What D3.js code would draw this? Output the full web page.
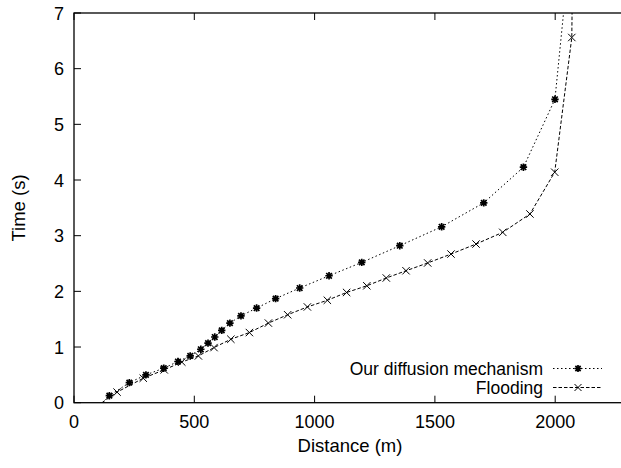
<!DOCTYPE html>
<html>
<head>
<meta charset="utf-8">
<script src="https://cdn.jsdelivr.net/npm/d3@7"></script>
<style>
  body { margin: 0; background: #fff; }
  text { font-family: "Liberation Sans", Arial, sans-serif; fill: #000; }
</style>
</head>
<body>
<div id="chart"></div>
<script>
// data
var diffusionDist = [60, 147, 230, 299, 373, 432, 483, 527, 557, 585, 614, 648, 694, 759, 838, 938, 1060, 1196, 1354, 1528, 1703, 1868, 1999, 2060];
var diffusionTime = [-0.25, 0.126, 0.36, 0.50, 0.62, 0.74, 0.84, 0.96, 1.07, 1.18, 1.30, 1.43, 1.56, 1.70, 1.87, 2.06, 2.28, 2.52, 2.82, 3.16, 3.59, 4.23, 5.45, 8.1];
var floodingDist = [60, 179, 288, 375, 448, 517, 582, 652, 729, 808, 888, 970, 1053, 1133, 1217, 1298, 1380, 1470, 1567, 1671, 1782, 1895, 1998, 2069, 2075];
var floodingTime = [-0.17, 0.19, 0.44, 0.59, 0.73, 0.84, 0.99, 1.14, 1.26, 1.43, 1.58, 1.72, 1.84, 1.98, 2.10, 2.24, 2.37, 2.51, 2.67, 2.85, 3.06, 3.39, 4.14, 6.56, 9.0];
var xTicks = [0, 500, 1000, 1500, 2000];
var yTicks = [0, 1, 2, 3, 4, 5, 6, 7];
var seriesNames = ["Our diffusion mechanism", "Flooding"];

var width = 621,
    height = 468;
var margin = {left: 74, top: 13};
var xMax = 2350; // right border falls outside the picture

var x = d3.scaleLinear().domain([0, xMax]).range([margin.left, margin.left + xMax * 0.2406]);
var y = d3.scaleLinear().domain([0, 7]).range([402.7, margin.top]);

var svg = d3.select("#chart")
  .append("svg")
    .attr("width", width)
    .attr("height", height);

svg.append("defs").append("clipPath")
    .attr("id", "plotclip")
  .append("rect")
    .attr("x", x(0))
    .attr("y", y(7))
    .attr("width", x(xMax) - x(0))
    .attr("height", y(0) - y(7));

// ticks (inside, mirrored on top)
var tickLen = 7;
xTicks.forEach(function(t) {
  svg.append("line").attr("x1", x(t)).attr("x2", x(t)).attr("y1", y(0)).attr("y2", y(0) - tickLen)
    .attr("stroke", "#000").attr("stroke-width", 1);
  svg.append("line").attr("x1", x(t)).attr("x2", x(t)).attr("y1", y(7)).attr("y2", y(7) + tickLen)
    .attr("stroke", "#000").attr("stroke-width", 1);
  svg.append("text").attr("x", x(t)).attr("y", 428)
    .attr("text-anchor", "middle").style("font-size", "18px").text(t);
});
yTicks.forEach(function(t) {
  svg.append("line").attr("x1", x(0)).attr("x2", x(0) + tickLen).attr("y1", y(t)).attr("y2", y(t))
    .attr("stroke", "#000").attr("stroke-width", 1);
  svg.append("text").attr("x", 64).attr("y", y(t) + 6.5)
    .attr("text-anchor", "end").style("font-size", "18px").text(t);
});

// border
svg.append("rect")
    .attr("x", x(0))
    .attr("y", y(7))
    .attr("width", x(xMax) - x(0))
    .attr("height", y(0) - y(7))
    .attr("fill", "none")
    .attr("stroke", "#000")
    .attr("stroke-width", 1.3);

// axis titles
svg.append("text").attr("x", 350).attr("y", 452)
  .attr("text-anchor", "middle").style("font-size", "18.5px").text("Distance (m)");
svg.append("text")
  .attr("transform", "translate(25,208) rotate(-90)")
  .attr("text-anchor", "middle").style("font-size", "18.5px").text("Time (s)");

// markers
function starPath(cx, cy, r) {
  var d = r * 0.75;
  return "M" + (cx - r) + "," + cy + "L" + (cx + r) + "," + cy +
         "M" + cx + "," + (cy - r) + "L" + cx + "," + (cy + r) +
         "M" + (cx - d) + "," + (cy - d) + "L" + (cx + d) + "," + (cy + d) +
         "M" + (cx - d) + "," + (cy + d) + "L" + (cx + d) + "," + (cy - d);
}
function crossPath(cx, cy, r) {
  return "M" + (cx - r) + "," + (cy - r) + "L" + (cx + r) + "," + (cy + r) +
         "M" + (cx - r) + "," + (cy + r) + "L" + (cx + r) + "," + (cy - r);
}

var series = [
  {name: seriesNames[0], xs: diffusionDist, ys: diffusionTime, dash: "1.5,2.5", marker: starPath, sw: 1.7},
  {name: seriesNames[1], xs: floodingDist, ys: floodingTime, dash: "3.5,2", marker: crossPath, sw: 1}
];

var plot = svg.append("g").attr("clip-path", "url(#plotclip)");
var line = d3.line()
  .x(function(d) { return x(d[0]); })
  .y(function(d) { return y(d[1]); });

series.forEach(function(s) {
  var pts = s.xs.map(function(v, i) { return [v, s.ys[i]]; });
  plot.append("path")
    .attr("d", line(pts))
    .attr("fill", "none")
    .attr("stroke", "#000")
    .attr("stroke-width", 1)
    .attr("stroke-dasharray", s.dash);
  plot.selectAll(null)
    .data(pts.filter(function(p) { return p[1] >= 0 && p[1] <= 7; }))
    .enter()
    .append("path")
      .attr("d", function(p) { return s.marker(x(p[0]), y(p[1]), 3.7); })
      .attr("stroke", "#000")
      .attr("stroke-width", s.sw)
      .attr("fill", "none");
});

// legend
var legendY = [368.5, 387.5];
series.forEach(function(s, i) {
  svg.append("text").attr("x", 543).attr("y", legendY[i] + 6)
    .attr("text-anchor", "end").style("font-size", "17.5px").text(s.name);
  svg.append("line").attr("x1", 553).attr("x2", 602).attr("y1", legendY[i]).attr("y2", legendY[i])
    .attr("stroke", "#000").attr("stroke-width", 1).attr("stroke-dasharray", s.dash);
  svg.append("path").attr("d", s.marker(578, legendY[i], 3.5))
    .attr("stroke", "#000").attr("stroke-width", s.sw).attr("fill", "none");
});
</script>
</body>
</html>
